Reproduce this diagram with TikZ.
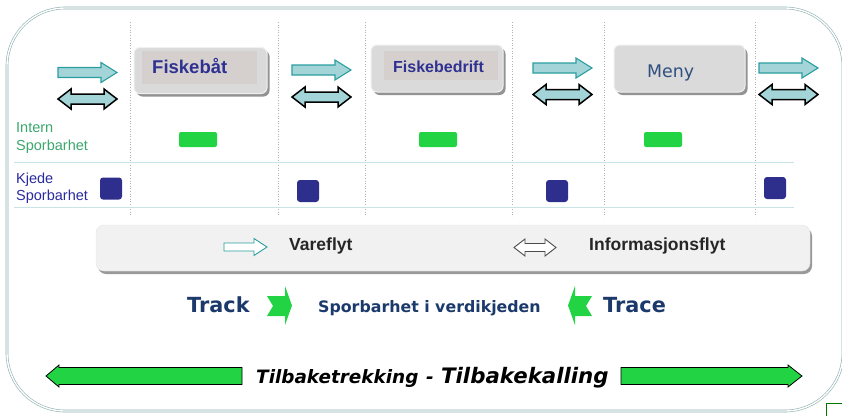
\documentclass[tikz,border=0pt]{standalone}
\usepackage{fontspec}
\setmainfont{Liberation Sans}
\newfontfamily\verdana{DejaVu Sans}
\usepackage{tikz}
\usetikzlibrary{shadows}

\definecolor{rammefarge}{HTML}{8FB0B0}
\definecolor{linjefarge}{HTML}{C8E4E6}
\definecolor{boksgra}{HTML}{DADADA}
\definecolor{indregra}{HTML}{D5D0CD}
\definecolor{tekstbla}{HTML}{2E3192}
\definecolor{menybla}{HTML}{2F4F7F}
\definecolor{navy}{HTML}{1B3A6B}
\definecolor{pilfyll}{HTML}{A3D5D8}
\definecolor{pilkant}{HTML}{2A9D9F}
\definecolor{gronn}{HTML}{22D444}
\definecolor{morkbla}{HTML}{2E2E8C}
\definecolor{interngronn}{HTML}{3AA76D}
\definecolor{kjedebla}{HTML}{2A2AA0}

\tikzset{
  ramme/.style={draw=rammefarge, line width=0.6, double=white, double distance=1.4, rounded corners=58},
  skille/.style={draw=gray!60, dotted, line width=0.6},
  rad/.style={draw=linjefarge, line width=0.9},
  aktor/.style={draw=gray!12, fill=boksgra, rounded corners=6, line width=1, inner sep=0,
    drop shadow={shadow xshift=2.5pt, shadow yshift=-3pt, fill=gray!85, opacity=1}},
  indre/.style={fill=indregra, inner sep=0},
  aktortekst/.style={inner sep=0, anchor=base west, text=tekstbla},
  vare/.style={draw=pilkant, fill=pilfyll, line width=1.1},
  info/.style={draw=black, fill=pilfyll, line width=1.5},
  intern/.style={fill=gronn, rounded corners=2, minimum width=38, minimum height=15, inner sep=0},
  kjede/.style={fill=morkbla, rounded corners=3, minimum size=22, inner sep=0},
  etikett/.style={inner sep=0, anchor=north west, align=left, font=\fontsize{14.5}{17.5}\selectfont},
  forklaring/.style={fill=gray!11, draw=gray!20, rounded corners=8, inner sep=0,
    drop shadow={shadow xshift=2pt, shadow yshift=-3pt, fill=gray!80, opacity=1}},
  forklaringstekst/.style={inner sep=0, anchor=base west, font=\fontsize{17.5}{20}\selectfont\bfseries, text=black!85},
  spor/.style={inner sep=0, anchor=base west, text=navy, font=\verdana\bfseries},
  gronnpil/.style={fill=gronn, draw=black, line width=0.8}
}

\begin{document}
\begin{tikzpicture}[x=1pt, y=-1pt]
  \useasboundingbox (0,0) rectangle (842,415);
  \draw[ramme] (7,8) rectangle (843,411);

  % kolonner og rader
  \foreach \x in {130,278,365,512,604,755}
    \draw[skille] (\x,22) -- (\x,217);
  \draw[rad] (14,162) -- (794,162);
  \draw[rad] (14,207) -- (794,207);

  % aktorer
  \node[aktor, minimum width=133, minimum height=46] (fiskebat) at (200.5,70.5) {};
  \node[indre, minimum width=115, minimum height=33] (fiskebat indre) at (199.5,67.5) {};
  \node[aktortekst, font=\fontsize{18.5}{20}\selectfont\bfseries] (fiskebat tekst) at (152,73) {Fiskebåt};
  \node[aktor, minimum width=132, minimum height=47] (bedrift) at (437,68.5) {};
  \node[indre, minimum width=114, minimum height=29] (bedrift indre) at (441,65.5) {};
  \node[aktortekst, font=\fontsize{16}{18}\selectfont\bfseries] (bedrift tekst) at (393,72) {Fiskebedrift};
  \node[aktor, minimum width=131, minimum height=47] (meny) at (679.5,68.5) {};
  \node[aktortekst, text=menybla, font=\verdana\fontsize{17.4}{19}\selectfont] (meny tekst) at (647,77) {Meny};

  % vareflyt og informasjonsflyt
  \foreach \x/\ya/\yb in {58/72.5/99, 292/70/97, 533/68/94.5, 759/68/94.5} {
    \draw[vare] (\x,\ya-5) -- (\x+43,\ya-5) -- (\x+43,\ya-10) -- (\x+59,\ya)
      -- (\x+43,\ya+10) -- (\x+43,\ya+5) -- (\x,\ya+5) -- cycle;
    \draw[info] (\x,\yb) -- (\x+13,\yb-10) -- (\x+13,\yb-5) -- (\x+46,\yb-5) -- (\x+46,\yb-10)
      -- (\x+59,\yb) -- (\x+46,\yb+10) -- (\x+46,\yb+5) -- (\x+13,\yb+5) -- (\x+13,\yb+10) -- cycle;
  }

  % sporbarhet
  \node[etikett, text=interngronn] (intern) at (16,122.5) {Intern\\Sporbarhet};
  \node[etikett, text=kjedebla] (kjede) at (16,172.5) {Kjede\\Sporbarhet};
  \node[intern] (intern1) at (198,139.5) {};
  \node[intern] (intern2) at (438,139.5) {};
  \node[intern] (intern3) at (663,139.5) {};
  \node[kjede] (kjede1) at (111,188.5) {};
  \node[kjede] (kjede2) at (308,191) {};
  \node[kjede] (kjede3) at (557,191) {};
  \node[kjede] (kjede4) at (775,188) {};

  % forklaring
  \node[forklaring, minimum width=714, minimum height=46] (forklaring) at (453,248) {};
  \draw[vare, line width=0.9, fill=white] (224,243) -- (254,243) -- (254,238.5) -- (267,247)
    -- (254,255.5) -- (254,251) -- (224,251) -- cycle;
  \node[forklaringstekst] (vareflyt) at (289,250) {Vareflyt};
  \draw[draw=black!70, line width=0.9, fill=white] (514,247.5) -- (525,239) -- (525,243.5) -- (545,243.5)
    -- (545,239) -- (556,247.5) -- (545,256) -- (545,251.5) -- (525,251.5) -- (525,256) -- cycle;
  \node[forklaringstekst] (infoflyt) at (589,250) {Informasjonsflyt};

  % track og trace
  \node[spor, font=\verdana\bfseries\fontsize{20.8}{22}\selectfont] (track) at (187,312) {Track};
  \fill[gronn] (267,296) -- (285,296) -- (285,286) -- (292,305.5) -- (285,325)
    -- (285,316) -- (267,316) -- (273,306) -- cycle;
  \node[spor, font=\verdana\bfseries\fontsize{15.8}{18}\selectfont] (kjeden) at (318,312) {Sporbarhet i verdikjeden};
  \fill[gronn] (592,296) -- (575,296) -- (575,286) -- (568,305.5) -- (575,325)
    -- (575,316) -- (592,316) -- (586,306) -- cycle;
  \node[spor, font=\verdana\bfseries\fontsize{20.8}{22}\selectfont] (trace) at (603,312) {Trace};

  % tilbaketrekking
  \draw[gronnpil] (46,376) -- (59,365) -- (59,367.5) -- (242,367.5) -- (242,384.5)
    -- (59,384.5) -- (59,387) -- cycle;
  \node[inner sep=0, anchor=base west, font=\verdana\bfseries\itshape] (tilbake) at (256,383)
    {\fontsize{18.4}{20}\selectfont Tilbaketrekking\hspace{0.42em}-\hspace{0.4em}\fontsize{21.3}{24}\selectfont Tilbakekalling};
  \draw[gronnpil] (621,367.5) -- (788,367.5) -- (788,365) -- (802,376) -- (788,387)
    -- (788,384.5) -- (621,384.5) -- cycle;

  \node[draw=green!45!black, fill=white, minimum size=16, inner sep=0, anchor=north west] (ikon) at (826,403) {};
\end{tikzpicture}
\end{document}
